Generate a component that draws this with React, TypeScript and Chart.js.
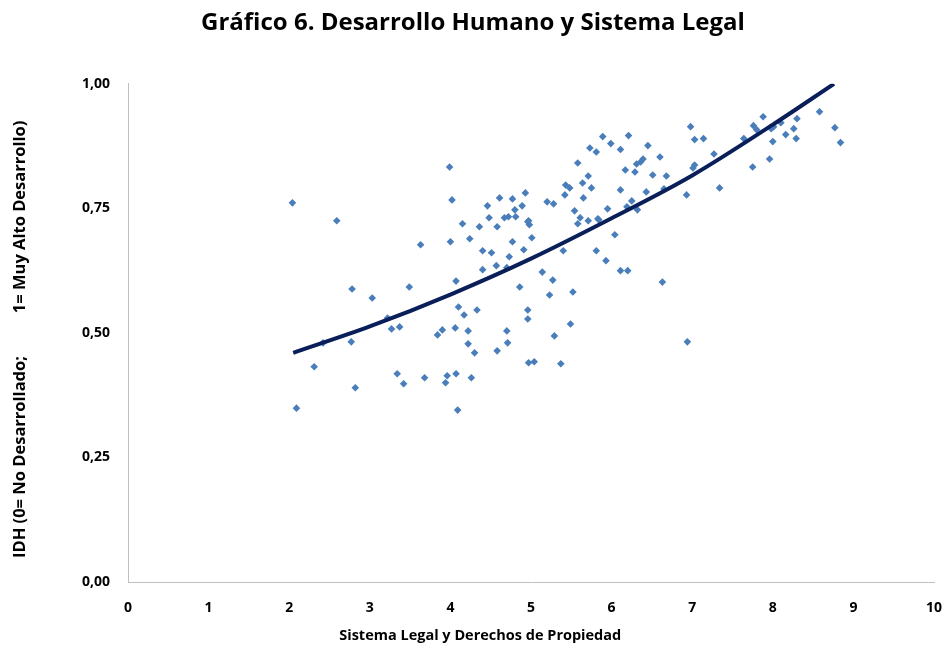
import React, { useEffect, useRef } from "react";
import { Chart, registerables } from "chart.js";

Chart.register(...registerables);

const TITLE = "Gráfico 6. Desarrollo Humano y Sistema Legal";
const X_TITLE = "Sistema Legal y Derechos de Propiedad";
const Y_TITLE = "IDH (0= No Desarrollado;          1= Muy Alto Desarrollo)   ";

const xTicks = [0, 1, 2, 3, 4, 5, 6, 7, 8, 9, 10];
const yTicks = [0, 0.25, 0.5, 0.75, 1.0];

const legalX = [
  2.04, 2.09, 2.31, 2.42, 2.59, 2.77, 2.78, 2.82, 3.03, 3.22,
  3.27, 3.37, 3.34, 3.42, 3.49, 3.63, 3.68, 3.84, 3.90, 3.94,
  3.96, 3.99, 4.00, 4.02, 4.06, 4.07, 4.07, 4.09, 4.10, 4.15,
  4.17, 4.22, 4.22, 4.24, 4.26, 4.30, 4.33, 4.36, 4.40, 4.40,
  4.46, 4.48, 4.51, 4.57, 4.58, 4.58, 4.61, 4.67, 4.70, 4.70,
  4.71, 4.72, 4.73, 4.77, 4.77, 4.80, 4.81, 4.86, 4.89, 4.91,
  4.93, 4.96, 4.96, 4.96, 4.97, 4.97, 4.98, 5.01, 5.04, 5.14,
  5.20, 5.23, 5.27, 5.28, 5.29, 5.37, 5.40, 5.42, 5.43, 5.48,
  5.49, 5.52, 5.54, 5.58, 5.58, 5.61, 5.64, 5.65, 5.71, 5.71,
  5.73, 5.75, 5.81, 5.81, 5.83, 5.84, 5.89, 5.93, 5.95, 5.99,
  6.04, 6.11, 6.11, 6.11, 6.17, 6.19, 6.20, 6.21, 6.25, 6.29,
  6.31, 6.32, 6.36, 6.39, 6.43, 6.45, 6.51, 6.60, 6.63, 6.65,
  6.68, 6.93, 6.94, 6.98, 7.01, 7.03, 7.03, 7.14, 7.27, 7.34,
  7.64, 7.75, 7.76, 7.80, 7.88, 7.96, 7.98, 8.00, 8.01, 8.10,
  8.16, 8.26, 8.29, 8.30, 8.58, 8.77, 8.84,
];

const idhY = [
  0.761, 0.349, 0.432, 0.480, 0.725, 0.482, 0.588, 0.390, 0.570, 0.530,
  0.508, 0.512, 0.418, 0.398, 0.592, 0.677, 0.410, 0.496, 0.506, 0.400,
  0.414, 0.833, 0.683, 0.767, 0.510, 0.604, 0.418, 0.345, 0.552, 0.719,
  0.536, 0.504, 0.478, 0.689, 0.410, 0.460, 0.546, 0.713, 0.665, 0.627,
  0.755, 0.731, 0.661, 0.635, 0.713, 0.464, 0.771, 0.731, 0.631, 0.504,
  0.480, 0.733, 0.653, 0.769, 0.683, 0.747, 0.733, 0.592, 0.755, 0.667,
  0.781, 0.723, 0.546, 0.528, 0.440, 0.725, 0.717, 0.691, 0.442, 0.622,
  0.763, 0.576, 0.606, 0.759, 0.494, 0.438, 0.665, 0.777, 0.797, 0.791,
  0.518, 0.582, 0.745, 0.841, 0.719, 0.731, 0.801, 0.771, 0.815, 0.725,
  0.871, 0.791, 0.863, 0.665, 0.729, 0.727, 0.894, 0.645, 0.749, 0.880,
  0.697, 0.868, 0.787, 0.625, 0.827, 0.753, 0.625, 0.896, 0.765, 0.823,
  0.839, 0.747, 0.843, 0.849, 0.783, 0.876, 0.817, 0.853, 0.602, 0.789,
  0.815, 0.777, 0.482, 0.914, 0.831, 0.837, 0.888, 0.890, 0.859, 0.791,
  0.890, 0.833, 0.916, 0.908, 0.934, 0.849, 0.910, 0.884, 0.914, 0.922,
  0.898, 0.910, 0.890, 0.930, 0.944, 0.912, 0.882,
];

const trendX = [2.05, 3, 4, 5, 6, 7, 8, 8.76];
const trendY = [0.46, 0.513, 0.577, 0.649, 0.73, 0.816, 0.918, 1.0];

const FONT = "'Open Sans', 'DejaVu Sans', sans-serif";

const xTitlePlugin = {
  id: "xTitleOffset",
  afterDraw(chart: any) {
    const { ctx, chartArea } = chart;
    ctx.save();
    ctx.font = `bold 14.5px ${FONT}`;
    ctx.fillStyle = "#000000";
    ctx.textAlign = "center";
    ctx.textBaseline = "middle";
    const cx = chartArea.left + (chartArea.right - chartArea.left) * 0.437;
    ctx.fillText(X_TITLE, cx, chartArea.bottom + 54);
    ctx.restore();
  },
};

export default function App() {
  const ref = useRef<HTMLCanvasElement | null>(null);

  useEffect(() => {
    if (!ref.current) return;
    const chart = new Chart(ref.current, {
      type: "scatter",
      data: {
        datasets: [
          {
            type: "line",
            label: "Tendencia",
            data: trendX.map((x, i) => ({ x, y: trendY[i] })),
            borderColor: "#0a1f5a",
            borderWidth: 4,
            pointRadius: 0,
            tension: 0.4,
            cubicInterpolationMode: "monotone",
            fill: false,
            order: 0,
          } as any,
          {
            label: "IDH",
            data: legalX.map((x, i) => ({ x, y: idhY[i] })),
            backgroundColor: "#4a7ebb",
            borderColor: "#4a7ebb",
            borderWidth: 0,
            pointStyle: "rectRot",
            pointRadius: 3.8,
            order: 1,
          },
        ],
      },
      options: {
        animation: false,
        responsive: true,
        maintainAspectRatio: false,
        layout: { padding: { top: 0, right: 1, bottom: 0, left: 0 } },
        plugins: {
          legend: { display: false },
          tooltip: { enabled: false },
          title: {
            display: true,
            text: TITLE,
            color: "#000000",
            font: { family: FONT, size: 24, weight: "bold", lineHeight: 1.2 },
            padding: { top: 9, bottom: 46 },
          },
        },
        scales: {
          x: {
            type: "linear",
            min: 0,
            max: 10,
            afterBuildTicks: (scale: any) => {
              scale.ticks = xTicks.map((v) => ({ value: v }));
            },
            afterFit: (scale: any) => {
              scale.height = 70;
              scale.paddingLeft = 0;
              scale.paddingRight = 13;
            },
            grid: { display: false, drawTicks: false },
            border: { display: true, color: "#bfbfbf", width: 1 },
            ticks: {
              color: "#000000",
              padding: 18,
              font: { family: FONT, size: 14, weight: "bold" },
              callback: (v: any) => String(v),
            },
          },
          y: {
            type: "linear",
            min: 0,
            max: 1,
            afterBuildTicks: (scale: any) => {
              scale.ticks = yTicks.map((v) => ({ value: v }));
            },
            afterFit: (scale: any) => {
              scale.width = 128;
            },
            grid: { display: false, drawTicks: false },
            border: { display: true, color: "#bfbfbf", width: 1 },
            ticks: {
              color: "#000000",
              padding: 18,
              font: { family: FONT, size: 14, weight: "bold" },
              callback: (v: any) => Number(v).toFixed(2).replace(".", ","),
            },
            title: {
              display: true,
              text: Y_TITLE,
              color: "#000000",
              font: { family: FONT, size: 16.5, weight: "bold", lineHeight: 1.2 },
              padding: { top: 10, bottom: 0 },
            },
          },
        },
      },
      plugins: [xTitlePlugin],
    });
    return () => chart.destroy();
  }, []);

  return (
    <div style={{ position: "fixed", left: 0, top: 0, width: 947, height: 652, background: "#fff" }}>
      <canvas ref={ref} />
    </div>
  );
}
